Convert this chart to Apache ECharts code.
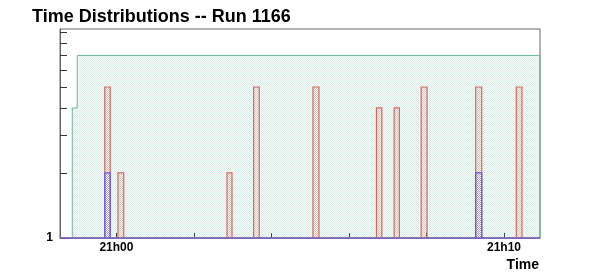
<!DOCTYPE html>
<html>
<head>
<meta charset="utf-8">
<script src="https://cdn.jsdelivr.net/npm/echarts@6/dist/echarts.min.js"></script>
<style>html,body{margin:0;padding:0;background:#fff}#c{width:600px;height:280px}</style>
</head>
<body>
<div id="c"></div>
<script>
// Time in seconds relative to 21h00
const xRange = [-87.4, 655.7];
const yRange = [1, 9.28];
const xTickValues = [0, 120, 240, 360, 480, 600];
const xLabelValues = [0, 600];
const xLabelTexts = {0: '21h00', 600: '21h10'};
const yTickValues = [1, 2, 3, 4, 5, 6, 7, 8, 9];
const yLabelValues = [1];

// Green histogram (bin edges and contents)
const greenEdges = [-68.4, -60.7, 655.7];
const greenValues = [4, 7];

// Red histogram bins
const redStart = [-18.1, 2.3, 171.2, 212.3, 304.2, 402.5, 429.9, 471.7, 556.2, 619.0];
const redEnd   = [-9.7, 11.3, 178.9, 221.1, 313.5, 410.9, 438.1, 480.9, 565.5, 627.8];
const redValues = [5, 2, 2, 5, 5, 4, 4, 5, 5, 5];

// Blue histogram bins
const blueStart = [-18.1, 556.2];
const blueEnd   = [-9.7, 565.5];
const blueValues = [2, 2];

function makePattern(color) {
  const c = document.createElement('canvas');
  c.width = 2; c.height = 2;
  const g = c.getContext('2d');
  g.fillStyle = color;
  g.fillRect(0, 0, 1, 1);
  g.fillRect(1, 1, 1, 1);
  return {image: c, repeat: 'repeat'};
}

const greenFill = makePattern('rgba(120,200,168,0.32)');
const redFill = makePattern('rgba(232,140,130,0.5)');
const blueFill = makePattern('rgba(120,120,240,0.5)');

function histOutline(api, starts, ends, values) {
  const pts = [api.coord([xRange[0], 1])];
  for (let i = 0; i < starts.length; i++) {
    pts.push(api.coord([starts[i], 1]));
    pts.push(api.coord([starts[i], values[i]]));
    pts.push(api.coord([ends[i], values[i]]));
    pts.push(api.coord([ends[i], 1]));
  }
  pts.push(api.coord([xRange[1], 1]));
  return pts;
}

function greenOutline(api) {
  const pts = [api.coord([greenEdges[0], 1])];
  for (let i = 0; i < greenValues.length; i++) {
    pts.push(api.coord([greenEdges[i], greenValues[i]]));
    pts.push(api.coord([greenEdges[i + 1], greenValues[i]]));
  }
  pts.push(api.coord([greenEdges[greenEdges.length - 1], 1]));
  return pts;
}

const chart = echarts.init(document.getElementById('c'), null, {renderer: 'canvas'});
const FONT = 'Liberation Sans, Arial, Helvetica, sans-serif';

chart.setOption({
  animation: false,
  backgroundColor: '#fff',
  title: {
    text: 'Time Distributions -- Run 1166',
    left: 27, top: 3,
    textStyle: {fontFamily: FONT, fontWeight: 'bold', fontSize: 18, color: '#000'}
  },
  grid: {
    left: 60, right: 60, top: 29, bottom: 42,
    show: true, borderColor: '#666', borderWidth: 1, backgroundColor: 'transparent'
  },
  xAxis: {
    type: 'value', min: xRange[0], max: xRange[1],
    splitLine: {show: false},
    axisLine: {show: true, onZero: false, lineStyle: {color: '#5c5cea', width: 1}},
    axisTick: {show: true, inside: true, length: 5, customValues: xTickValues, lineStyle: {color: '#333'}},
    axisLabel: {
      show: true, customValues: xLabelValues, margin: 4,
      formatter: v => xLabelTexts[Math.round(v)] || '',
      fontFamily: FONT, fontWeight: 'bold', fontSize: 12, color: '#000'
    }
  },
  yAxis: {
    type: 'log', logBase: 10, min: yRange[0], max: yRange[1],
    splitLine: {show: false},
    axisLine: {show: true, onZero: false, lineStyle: {color: '#666', width: 1}},
    axisTick: {show: true, inside: true, length: 7, customValues: yTickValues, lineStyle: {color: '#333'}},
    minorTick: {show: false},
    axisLabel: {
      show: true, customValues: yLabelValues, margin: 7,
      formatter: v => String(Math.round(v)),
      fontFamily: FONT, fontWeight: 'bold', fontSize: 12, color: '#000'
    }
  },
  graphic: [{
    type: 'text', right: 61, top: 258,
    style: {text: 'Time', fontFamily: FONT, fontWeight: 'bold', fontSize: 14, fill: '#000'}
  }],
  series: [
    {
      type: 'custom', name: 'green', data: [[0, 1]], clip: false, z: 1,
      renderItem: (params, api) => ({
        type: 'polygon',
        shape: {points: greenOutline(api)},
        style: {fill: greenFill, stroke: '#6db597', lineWidth: 1}
      })
    },
    {
      type: 'custom', name: 'red', data: [[0, 1]], clip: false, z: 2,
      renderItem: (params, api) => ({
        type: 'polygon',
        shape: {points: histOutline(api, redStart, redEnd, redValues)},
        style: {fill: redFill, stroke: '#d5675c', lineWidth: 1.2}
      })
    },
    {
      type: 'custom', name: 'blue', data: [[0, 1]], clip: false, z: 3,
      renderItem: (params, api) => ({
        type: 'polygon',
        shape: {points: histOutline(api, blueStart, blueEnd, blueValues)},
        style: {fill: blueFill, stroke: '#5c5cea', lineWidth: 1.2}
      })
    }
  ]
});
</script>
</body>
</html>
